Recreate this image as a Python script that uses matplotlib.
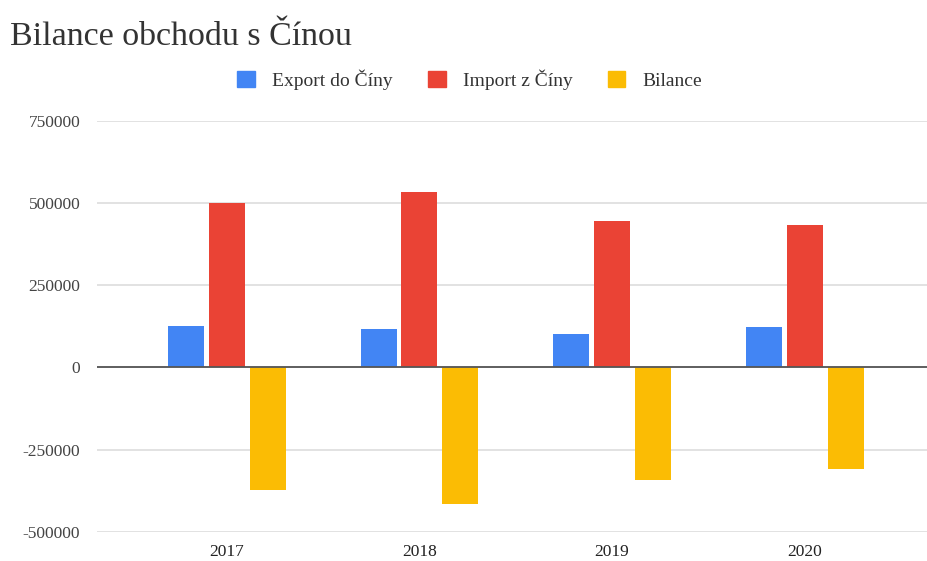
import matplotlib
matplotlib.use("Agg")
import matplotlib.pyplot as plt
import numpy as np
from matplotlib.patches import Patch

years = ["2017", "2018", "2019", "2020"]
export_vals = [127000, 117000, 102000, 122000]
import_vals = [501000, 535000, 447000, 432000]
bilance_vals = [-372000, -416000, -343000, -308000]
series_names = ["Export do Číny", "Import z Číny", "Bilance"]
colors = ["#4285F4", "#EA4335", "#FBBC04"]
yticks = [-500000, -250000, 0, 250000, 500000, 750000]

plt.rcParams['font.family'] = ['Liberation Serif', 'DejaVu Serif']

fig = plt.figure(figsize=(9.27, 5.61), dpi=100)
ax = fig.add_axes([0.1046, 0.0522, 0.8954, 0.7322])

x = np.arange(len(years))
w = 0.187
off = 0.212
for i, (vals, c) in enumerate(zip([export_vals, import_vals, bilance_vals], colors)):
    ax.bar(x + (i - 1) * off, vals, width=w, color=c, zorder=3)

ax.set_ylim(-500000, 750000)
ax.set_xlim(-0.674, 3.635)
ax.set_yticks(yticks)
ax.set_yticklabels([str(v) for v in yticks], fontsize=12.5, color="#444444")
ax.set_xticks(x)
ax.set_xticklabels(years, fontsize=12.5, color="#222222")
ax.tick_params(axis='y', length=0, pad=12)
ax.tick_params(axis='x', length=0, pad=9)
ax.yaxis.grid(True, color="#dddddd", linewidth=1.2, zorder=0)
ax.axhline(0, color="#555555", linewidth=1.3, zorder=4)
for s in ax.spines.values():
    s.set_visible(False)

fig.text(0.011, 0.935, "Bilance obchodu s Čínou", fontsize=24.5, color="#333333", ha="left", va="center")

handles = [Patch(facecolor=c, edgecolor=c) for c in colors]
fig.legend(handles, series_names, loc="center", bbox_to_anchor=(0.507, 0.858), ncol=3,
           frameon=False, fontsize=14, handlelength=0.9, handleheight=0.9,
           columnspacing=1.8, handletextpad=0.9, labelcolor="#333333")

fig.savefig("out.png", dpi=100, facecolor="white")
